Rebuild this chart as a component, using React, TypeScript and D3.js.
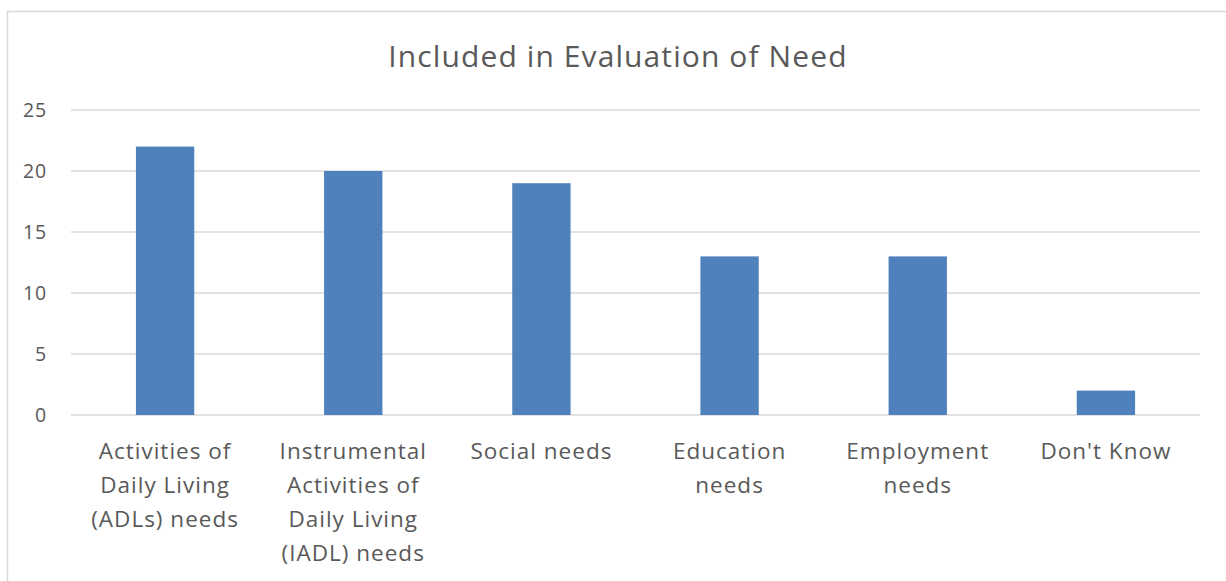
import { useEffect, useRef } from 'react';
import * as d3 from 'd3';

const TITLE = 'Included in Evaluation of Need';
const CATEGORIES = [
  'Activities of Daily Living (ADLs) needs',
  'Instrumental Activities of Daily Living (IADL) needs',
  'Social needs',
  'Education needs',
  'Employment needs',
  "Don't Know",
];
const CATEGORY_LINES = [
  ['Activities of', 'Daily Living', '(ADLs) needs'],
  ['Instrumental', 'Activities of', 'Daily Living', '(IADL) needs'],
  ['Social needs'],
  ['Education', 'needs'],
  ['Employment', 'needs'],
  ["Don't Know"],
];
const VALUES = [22, 20, 19, 13, 13, 2];
const Y_TICKS = [0, 5, 10, 15, 20, 25];

const W = 1226;
const H = 581;
const PLOT = { left: 71, right: 1200, top: 110, bottom: 415 };
const FONT = '"Open Sans", "Noto Sans", sans-serif';
const TEXT = '#595959';
const GRID = '#d9d9d9';
const BAR = '#4f81bd';

export default function App() {
  const ref = useRef<SVGSVGElement | null>(null);

  useEffect(() => {
    if (!ref.current) return;
    const svg = d3.select(ref.current);
    svg.selectAll('*').remove();

    const x = d3.scaleBand<string>().domain(CATEGORIES).range([PLOT.left, PLOT.right]).padding(0);
    const y = d3.scaleLinear().domain([0, 25]).range([PLOT.bottom, PLOT.top]);
    const barW = x.bandwidth() * 0.31;

    // chart border (top + left visible)
    svg.append('rect')
      .attr('x', 7.5).attr('y', 11.5)
      .attr('width', W + 20).attr('height', H + 20)
      .attr('fill', 'none').attr('stroke', GRID).attr('stroke-width', 1.5);

    svg.append('text')
      .attr('x', 618)
      .attr('y', 67)
      .attr('text-anchor', 'middle')
      .attr('font-family', FONT)
      .attr('font-size', 30)
      .attr('letter-spacing', 1.1)
      .attr('fill', TEXT)
      .text(TITLE);

    const grid = svg.append('g');
    Y_TICKS.forEach((t) => {
      grid.append('line')
        .attr('x1', PLOT.left).attr('x2', PLOT.right)
        .attr('y1', y(t)).attr('y2', y(t))
        .attr('stroke', GRID).attr('stroke-width', 1.5);
      grid.append('text')
        .attr('x', 47).attr('y', y(t) + 7)
        .attr('text-anchor', 'end')
        .attr('font-family', FONT).attr('font-size', 19.5)
        .attr('letter-spacing', 0.8)
        .attr('fill', TEXT)
        .text(String(t));
    });

    svg.append('g')
      .selectAll('rect')
      .data(VALUES)
      .join('rect')
      .attr('x', (_, i) => (x(CATEGORIES[i]) ?? 0) + (x.bandwidth() - barW) / 2)
      .attr('y', (d) => y(d))
      .attr('width', barW)
      .attr('height', (d) => y(0) - y(d))
      .attr('fill', BAR);

    const labels = svg.append('g');
    CATEGORY_LINES.forEach((lines, i) => {
      const cx = (x(CATEGORIES[i]) ?? 0) + x.bandwidth() / 2;
      const t = labels.append('text')
        .attr('text-anchor', 'middle')
        .attr('font-family', FONT).attr('font-size', 22.5)
        .attr('letter-spacing', 1)
        .attr('fill', TEXT);
      lines.forEach((ln, j) => {
        t.append('tspan').attr('x', cx).attr('y', 459 + j * 34).text(ln);
      });
    });
  }, []);

  return (
    <svg
      ref={ref}
      width={W}
      height={H}
      style={{ position: 'absolute', left: 0, top: 0, background: '#fff' }}
    />
  );
}
